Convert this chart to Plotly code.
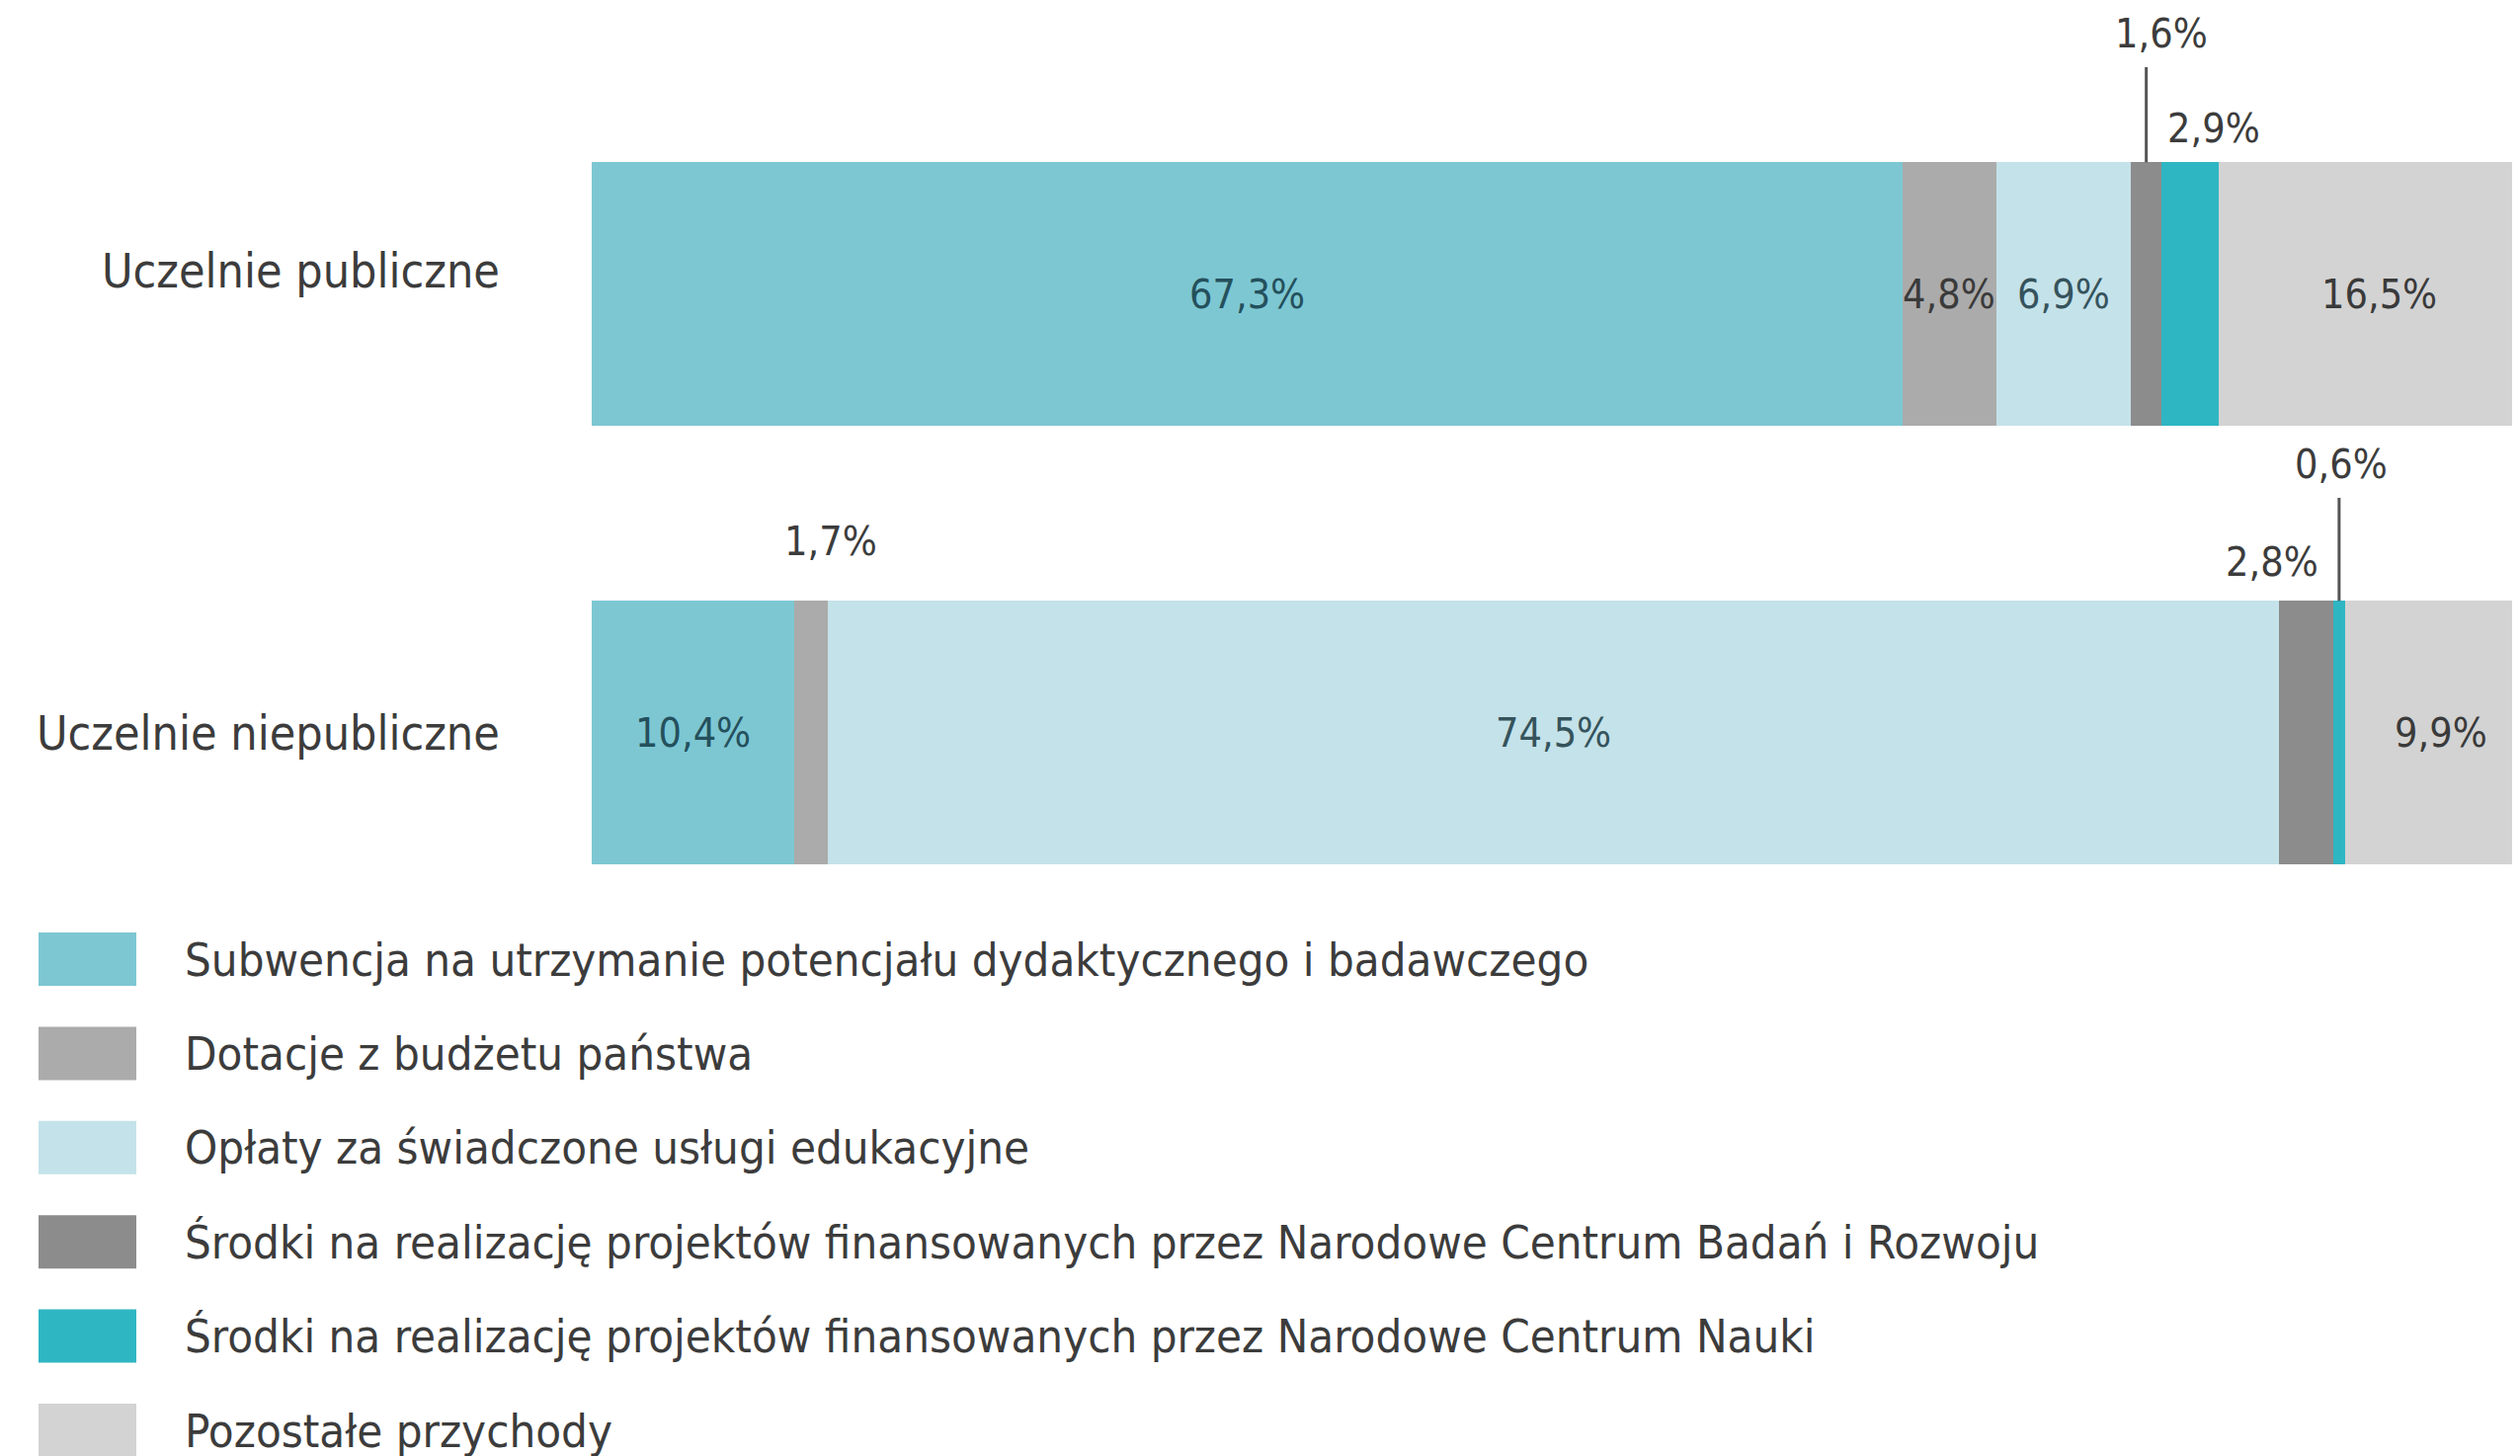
import plotly.graph_objects as go

# categories (top to bottom) and the share of each revenue source, in %
categories = ["Uczelnie publiczne", "Uczelnie niepubliczne"]
series_names = [
    "Subwencja na utrzymanie potencjału dydaktycznego i badawczego",
    "Dotacje z budżetu państwa",
    "Opłaty za świadczone usługi edukacyjne",
    "Środki na realizację projektów finansowanych przez Narodowe Centrum Badań i Rozwoju",
    "Środki na realizację projektów finansowanych przez Narodowe Centrum Nauki",
    "Pozostałe przychody",
]
subwencja = [67.3, 10.4]
dotacje = [4.8, 1.7]
oplaty = [6.9, 74.5]
ncbr = [1.6, 2.8]
ncn = [2.9, 0.6]
pozostale = [16.5, 9.9]

series_values = [subwencja, dotacje, oplaty, ncbr, ncn, pozostale]

_COLOURS = ["#7dc7d3", "#ababab", "#c4e2e9", "#8c8c8c", "#2fb6c3", "#d3d3d3"]
_LABEL_COLOURS = ["#24505c", "#3a3a3a", "#35535c", "#3a3a3a", "#3a3a3a", "#3a3a3a"]
_TEXT = "#3c3c3c"
_FONT = "Liberation Sans Narrow, DejaVu Sans Condensed, Roboto, sans-serif"

# page body has an 8px margin, so the figure is shifted by that much
PAGE_OFF = 8
FW, FH = 2551, 1474 - PAGE_OFF
BAR_W = 0.6
PX_PER_PCT = 19.72


def px(x):
    return (x - PAGE_OFF) / FW


def py(y):
    return 1 - (y - PAGE_OFF) / FH


# small segments get their label outside the bar:
# (series, category) -> (y position, xanchor, x at, xshift, line top or None)
_OUTSIDE = {
    (3, 0): (-0.593, "center", "mid", 15, -0.517),
    (4, 0): (-0.377, "left", "start", 4, None),
    (1, 1): (0.564, "center", "mid", 20, None),
    (3, 1): (0.611, "right", "mid", 15, None),
    (4, 1): (0.389, "center", "mid", 2, 0.465),
}
_CAT_YSHIFT = [24, 0]


def pct(v: float) -> str:
    return f"{v:.1f}".replace(".", ",") + "%"


fig = go.Figure()
for name, vals, col in zip(series_names, series_values, _COLOURS):
    fig.add_trace(go.Bar(
        y=categories, x=vals, name=name, orientation="h",
        width=BAR_W, marker=dict(color=col, line=dict(width=0)),
        showlegend=False, hoverinfo="x+name",
    ))

annotations = []
shapes = []
for ci, cat in enumerate(categories):
    annotations.append(dict(
        x=px(508), y=ci, xref="paper", yref="y", text=cat, showarrow=False,
        xanchor="right", yanchor="middle", yshift=_CAT_YSHIFT[ci],
        font=dict(size=48, color=_TEXT, family=_FONT),
    ))
    start = 0.0
    for si, vals in enumerate(series_values):
        v = vals[ci]
        mid = start + v / 2
        if (si, ci) in _OUTSIDE:
            ty, anchor, at, shift, line_top = _OUTSIDE[(si, ci)]
            tx = mid if at == "mid" else start
            annotations.append(dict(
                x=tx, y=ty, xref="x", yref="y", text=pct(v), showarrow=False,
                xanchor=anchor, yanchor="middle", xshift=shift,
                font=dict(size=41, color=_TEXT, family=_FONT),
            ))
            if line_top is not None:
                shapes.append(dict(
                    type="line", xref="x", yref="y",
                    x0=mid, x1=mid, y0=ci - BAR_W / 2, y1=line_top,
                    line=dict(color="#555555", width=3),
                ))
        else:
            annotations.append(dict(
                x=mid, y=ci, xref="x", yref="y", text=pct(v), showarrow=False,
                font=dict(size=41, color=_LABEL_COLOURS[si], family=_FONT),
            ))
        start += v

# legend drawn by hand: big square swatches stacked below the bars
for i, (name, col) in enumerate(zip(series_names, _COLOURS)):
    yc = 971 + i * 95.4
    shapes.append(dict(
        type="rect", xref="paper", yref="paper",
        x0=px(39), x1=px(138), y0=py(yc + 27), y1=py(yc - 27),
        fillcolor=col, line=dict(width=0),
    ))
    annotations.append(dict(
        x=px(185), y=py(yc), xref="paper", yref="paper", text=name,
        showarrow=False, xanchor="left", yanchor="middle",
        font=dict(size=47, color=_TEXT, family=_FONT),
    ))

# index 0 sits at page y 297.5, categories 444 px apart
y_top = -(297.5 - PAGE_OFF) / 444
y_bottom = (FH + PAGE_OFF - 297.5) / 444
x_end = (FW + PAGE_OFF - 599) / PX_PER_PCT

fig.update_layout(
    barmode="stack",
    width=FW, height=FH,
    margin=dict(l=0, r=0, t=0, b=0),
    plot_bgcolor="#ffffff",
    paper_bgcolor="#ffffff",
    xaxis=dict(domain=[px(599), 1], range=[0, x_end], visible=False),
    yaxis=dict(
        type="category", categoryorder="array", categoryarray=categories,
        range=[y_bottom, y_top], showgrid=False, zeroline=False, showline=False,
        showticklabels=False,
    ),
    annotations=annotations,
    shapes=shapes,
)

fig.write_html("out.html")
